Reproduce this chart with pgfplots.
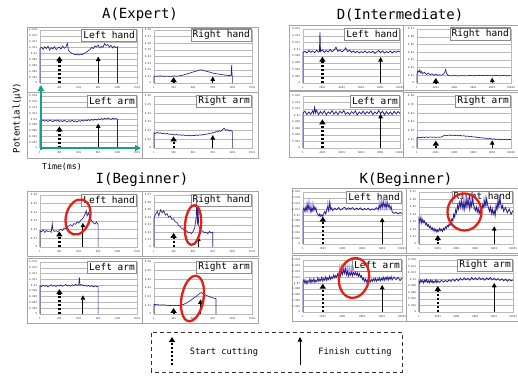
\documentclass[border=0pt]{standalone}
\usepackage{fontspec}
\setmainfont{DejaVu Sans Mono}
\usepackage{pgfplots}
\pgfplotsset{compat=1.18}
\usetikzlibrary{arrows.meta}
\definecolor{sigc}{RGB}{40,30,140}
\definecolor{lightsig}{RGB}{175,155,230}
\definecolor{framec}{RGB}{165,165,165}
\definecolor{labc}{RGB}{140,140,140}
\definecolor{teal2}{RGB}{20,160,140}
\definecolor{redc}{RGB}{232,30,20}
\pgfplotsset{
  panel/.style={scale only axis, anchor=south west, clip=false,
    axis line style={gray!55, line width=0.4pt},
    ymajorgrids, grid style={gray!55, line width=0.35pt},
    major tick length=0pt,
    tick label style={font=\fontsize{2.6}{3}\selectfont, text=black!75},
    /pgf/number format/assume math mode=true,
    /pgf/number format/1000 sep={},
    scaled y ticks=false, scaled x ticks=false,
    yticklabel style={/pgf/number format/fixed, /pgf/number format/precision=3, xshift=0.6pt},
    xticklabel style={yshift=0.3pt},
    ymin=0, enlargelimits=false},
  panA/.style={panel, xmin=1, xmax=1501, xtick={1,301,601,901,1201,1501}},
  panD/.style={panel, xmin=1, xmax=10001, xtick={1,2001,4001,6001,8001,10001}},
  y18/.style={ymax=0.018, ytick={0,0.002,0.004,0.006,0.008,0.01,0.012,0.014,0.016,0.018}},
  y16/.style={ymax=0.016, ytick={0,0.002,0.004,0.006,0.008,0.01,0.012,0.014,0.016}},
  y8/.style={ymax=0.08, ytick={0,0.01,0.02,0.03,0.04,0.05,0.06,0.07,0.08}},
  y7/.style={ymax=0.07, ytick={0,0.01,0.02,0.03,0.04,0.05,0.06,0.07}},
  y6/.style={ymax=0.06, ytick={0,0.01,0.02,0.03,0.04,0.05,0.06}},
  sig/.style={color=sigc, line width=0.65pt, no marks},
  dsig/.style={color=sigc, line width=0.8pt, no marks},
  lsig/.style={color=lightsig, line width=0.6pt, no marks},
}
\tikzset{
  plab/.style={anchor=north east, draw=labc, line width=1.1pt, fill=white,
    font=\fontsize{9.5}{10}\selectfont, inner sep=1.6pt, minimum height=12.5pt, yshift=1.5pt},
  startar/.style={black, line width=2.2pt, dash pattern=on 2.2pt off 1.8pt,
    -{Triangle[length=5pt,width=6pt]}},
  finar/.style={black, line width=0.9pt, -{Triangle[length=4.5pt,width=4.5pt]}},
  frm/.style={draw=framec, line width=0.9pt, fill=white},
  ell/.style={draw=redc, line width=2.3pt},
}
\newcommand\PL[1]{\node[plab] at (rel axis cs:1,1) {#1};}
\newcommand\SA[2]{\draw[startar] (axis cs:#1,0) -- (axis cs:#1,#2);}
\newcommand\FA[2]{\draw[finar] (axis cs:#1,0) -- (axis cs:#1,#2);}
\begin{document}
\begin{tikzpicture}
\path[use as bounding box] (0,0) rectangle (518pt,376pt);
\clip (0,0) rectangle (518pt,376pt);
% frames
\draw[frm] (27pt,284pt) rectangle (142pt,349pt);
\draw[frm] (142pt,284pt) rectangle (258pt,349pt);
\draw[frm] (27pt,218pt) rectangle (142pt,284pt);
\draw[frm] (142pt,218pt) rectangle (258pt,284pt);
\draw[frm] (289pt,286pt) rectangle (403pt,351pt);
\draw[frm] (403pt,286pt) rectangle (525pt,351pt);
\draw[frm] (289pt,219pt) rectangle (403pt,285pt);
\draw[frm] (403pt,219pt) rectangle (525pt,284pt);
\draw[frm] (27pt,120pt) rectangle (142pt,185pt);
\draw[frm] (142pt,120pt) rectangle (258pt,185pt);
\draw[frm] (27pt,53pt) rectangle (142pt,118pt);
\draw[frm] (142pt,53pt) rectangle (258pt,118pt);
\draw[frm] (292pt,123pt) rectangle (406pt,188pt);
\draw[frm] (406pt,123pt) rectangle (525pt,188pt);
\draw[frm] (292pt,55pt) rectangle (406pt,121pt);
\draw[frm] (406pt,55pt) rectangle (525pt,121pt);
% titles
\node[font=\fontsize{14}{15}\selectfont] at (140pt,361pt) {A(Expert)};
\node[font=\fontsize{14}{15}\selectfont] at (400pt,361pt) {D(Intermediate)};
\node[font=\fontsize{14}{15}\selectfont] at (142pt,196pt) {I(Beginner)};
\node[font=\fontsize{14}{15}\selectfont] at (406pt,196pt) {K(Beginner)};
\node[font=\fontsize{9}{10}\selectfont, rotate=90] at (17pt,258pt) {Potential(μV)};
\node[font=\fontsize{8.3}{9}\selectfont] at (62pt,209pt) {Time(ms)};

% ---------- A Left hand
\begin{axis}[panA, y18, at={(40pt,293pt)}, width=97pt, height=53pt]
\PL{Left hand}
\addplot[sig] coordinates {(1,0)(1,0.0118)(25,0.0121)(50,0.0114)(75,0.0123)(100,0.0117)(125,0.0125)(150,0.0112)(175,0.0120)(200,0.0116)(225,0.0124)(250,0.0113)(275,0.0119)(300,0.0122)(325,0.0115)(350,0.0126)(375,0.0118)(400,0.0121)(425,0.0135)(440,0.0112)(450,0.0108)(475,0.0104)(500,0.0100)(525,0.0098)(550,0.0096)(575,0.0097)(600,0.0095)(625,0.0098)(650,0.0096)(675,0.0100)(700,0.0102)(725,0.0106)(750,0.0110)(775,0.0114)(800,0.0121)(825,0.0117)(850,0.0126)(875,0.0122)(900,0.0129)(925,0.0119)(950,0.0124)(975,0.0121)(1000,0.0134)(1025,0.0127)(1050,0.0131)(1075,0.0122)(1100,0.0128)(1125,0.0119)(1150,0.0125)(1175,0.0120)(1200,0.0123)(1200,0)};
\SA{301}{0.0091}\FA{901}{0.0090}
\end{axis}
% ---------- A Right hand
\begin{axis}[panA, y8, at={(154pt,293pt)}, width=98pt, height=53pt]
\PL{Right hand}
\addplot[sig] coordinates {(1,0)(1,0.0105)(50,0.0102)(100,0.0107)(150,0.0101)(200,0.0104)(250,0.0100)(300,0.0106)(350,0.0103)(400,0.0110)(450,0.0121)(500,0.0135)(550,0.0150)(600,0.0166)(650,0.0180)(700,0.0195)(725,0.0199)(750,0.0190)(800,0.0178)(850,0.0165)(900,0.0150)(950,0.0140)(1000,0.0133)(1050,0.0125)(1100,0.0118)(1150,0.0112)(1180,0.0115)(1190,0.0270)(1195,0.0120)(1200,0.0110)(1200,0)};
\SA{301}{0.009}\FA{901}{0.010}
\end{axis}
% ---------- A Left arm
\begin{axis}[panA, y18, at={(40pt,228pt)}, width=97pt, height=52pt]
\PL{Left arm}
\addplot[sig] coordinates {(1,0)(1,0.0096)(25,0.0094)(50,0.0097)(75,0.0093)(100,0.0096)(125,0.0092)(150,0.0097)(175,0.0094)(200,0.0091)(225,0.0096)(250,0.0093)(275,0.0097)(300,0.0092)(325,0.0095)(350,0.0091)(375,0.0096)(400,0.0093)(425,0.0090)(450,0.0095)(475,0.0092)(500,0.0096)(525,0.0091)(550,0.0094)(575,0.0090)(600,0.0095)(625,0.0092)(650,0.0096)(675,0.0093)(700,0.0097)(725,0.0094)(750,0.0098)(775,0.0095)(800,0.0099)(825,0.0096)(850,0.0100)(875,0.0097)(900,0.0101)(925,0.0098)(950,0.0102)(975,0.0099)(1000,0.0103)(1025,0.0100)(1050,0.0104)(1075,0.0101)(1100,0.0099)(1125,0.0103)(1150,0.0100)(1175,0.0102)(1200,0.0099)(1200,0)};
\SA{301}{0.0075}\FA{901}{0.0085}
\end{axis}
% ---------- A Right arm
\begin{axis}[panA, y6, at={(154pt,228pt)}, width=98pt, height=52pt]
\PL{Right arm}
\addplot[sig] coordinates {(1,0)(1,0.0175)(25,0.0168)(50,0.0180)(75,0.0170)(100,0.0176)(125,0.0165)(150,0.0172)(175,0.0162)(200,0.0168)(225,0.0158)(250,0.0163)(275,0.0155)(300,0.0160)(325,0.0150)(350,0.0156)(375,0.0148)(400,0.0153)(425,0.0146)(450,0.0151)(475,0.0144)(500,0.0149)(525,0.0142)(550,0.0148)(575,0.0141)(600,0.0147)(625,0.0143)(650,0.0150)(675,0.0145)(700,0.0152)(725,0.0148)(750,0.0156)(775,0.0153)(800,0.0162)(825,0.0160)(850,0.0170)(875,0.0168)(900,0.0178)(925,0.0175)(950,0.0190)(975,0.0185)(1000,0.0198)(1025,0.0192)(1050,0.0215)(1075,0.0228)(1100,0.0205)(1125,0.0212)(1150,0.0196)(1175,0.0205)(1200,0.0190)(1200,0)};
\SA{301}{0.0135}\FA{901}{0.0150}
\end{axis}
% teal axes arrows
\draw[teal2, line width=1.6pt, -{Triangle[length=6pt,width=6pt]}] (41pt,226pt) -- (41pt,291pt);
\draw[teal2, line width=1.6pt, -{Triangle[length=6pt,width=6pt]}] (40pt,228pt) -- (141pt,228pt);

% ---------- D Left hand
\begin{axis}[panD, y16, at={(303pt,293pt)}, width=97pt, height=54pt]
\PL{Left hand}
\addplot[dsig] coordinates {(1,0)(1,0.0090)(200,0.0094)(400,0.0089)(600,0.0096)(800,0.0091)(1000,0.0095)(1200,0.0090)(1400,0.0097)(1600,0.0092)(1700,0.0094)(1750,0.0150)(1800,0.0093)(2000,0.0098)(2200,0.0091)(2400,0.0096)(2600,0.0092)(2800,0.0099)(3000,0.0093)(3200,0.0097)(3400,0.0106)(3600,0.0094)(3800,0.0098)(4000,0.0092)(4200,0.0096)(4400,0.0104)(4600,0.0093)(4800,0.0097)(5000,0.0091)(5200,0.0095)(5400,0.0090)(5600,0.0094)(5800,0.0089)(6000,0.0093)(6200,0.0090)(6400,0.0095)(6600,0.0089)(6800,0.0093)(7000,0.0090)(7200,0.0094)(7400,0.0088)(7600,0.0092)(7800,0.0096)(8000,0.0090)(8200,0.0095)(8400,0.0089)(8600,0.0093)(8800,0.0090)(9000,0.0095)(9200,0.0089)(9400,0.0094)(9600,0.0091)(9800,0.0095)(10001,0.0092)};
\SA{2001}{0.0078}\FA{8001}{0.0077}
\end{axis}
% ---------- D Right hand
\begin{axis}[panD, y7, at={(417pt,293pt)}, width=94pt, height=54pt]
\PL{Right hand}
\addplot[sig] coordinates {(1,0)(1,0.012)(100,0.016)(200,0.014)(300,0.017)(400,0.013)(500,0.015)(600,0.012)(800,0.014)(1000,0.011)(1200,0.013)(1400,0.0105)(1600,0.012)(1800,0.010)(2000,0.0115)(2200,0.0098)(2400,0.0108)(2600,0.0100)(2800,0.0115)(2950,0.0140)(3050,0.0175)(3150,0.0125)(3300,0.0098)(3600,0.0092)(4000,0.0097)(4400,0.0091)(4800,0.0096)(5200,0.0092)(5600,0.0098)(6000,0.0094)(6400,0.0100)(6800,0.0095)(7200,0.0101)(7600,0.0096)(8000,0.0093)(8400,0.0099)(8800,0.0094)(9200,0.0097)(9600,0.0093)(10001,0.0096)};
\SA{2001}{0.0065}\FA{8001}{0.0070}
\end{axis}
% ---------- D Left arm
\begin{axis}[panD, y16, at={(303pt,228pt)}, width=97pt, height=52pt]
\PL{Left arm}
\addplot[dsig] coordinates {(1,0)(1,0.0108)(200,0.0113)(400,0.0103)(600,0.0111)(800,0.0104)(1000,0.0114)(1100,0.0106)(1200,0.0125)(1300,0.0108)(1400,0.0116)(1600,0.0103)(1800,0.0112)(2000,0.0105)(2200,0.0114)(2400,0.0102)(2600,0.0111)(2800,0.0106)(3000,0.0115)(3200,0.0104)(3400,0.0112)(3600,0.0103)(3800,0.0113)(4000,0.0107)(4200,0.0115)(4400,0.0104)(4600,0.0110)(4800,0.0103)(5000,0.0112)(5200,0.0106)(5400,0.0114)(5600,0.0102)(5800,0.0111)(6000,0.0105)(6200,0.0113)(6400,0.0104)(6600,0.0112)(6800,0.0106)(7000,0.0114)(7200,0.0103)(7400,0.0111)(7600,0.0105)(7800,0.0115)(8000,0.0106)(8200,0.0113)(8400,0.0102)(8600,0.0112)(8800,0.0104)(9000,0.0111)(9200,0.0103)(9400,0.0113)(9600,0.0105)(9800,0.0112)(10001,0.0106)};
\SA{2001}{0.0088}\FA{8001}{0.0105}
\end{axis}
% ---------- D Right arm
\begin{axis}[panD, y6, at={(417pt,228pt)}, width=94pt, height=52pt]
\PL{Right arm}
\addplot[sig] coordinates {(1,0)(1,0.0120)(200,0.0124)(400,0.0118)(600,0.0126)(800,0.0121)(1000,0.0127)(1200,0.0122)(1400,0.0128)(1600,0.0123)(1800,0.0127)(2000,0.0122)(2200,0.0126)(2400,0.0124)(2600,0.0128)(2800,0.0140)(3000,0.0148)(3200,0.0142)(3400,0.0150)(3600,0.0144)(3800,0.0149)(4000,0.0143)(4200,0.0148)(4400,0.0141)(4600,0.0146)(4800,0.0139)(5000,0.0142)(5200,0.0135)(5400,0.0138)(5600,0.0130)(5800,0.0133)(6000,0.0126)(6200,0.0129)(6400,0.0121)(6600,0.0124)(6800,0.0116)(7000,0.0119)(7200,0.0111)(7400,0.0114)(7600,0.0106)(7800,0.0110)(8000,0.0102)(8200,0.0106)(8400,0.0099)(8600,0.0103)(8800,0.0097)(9000,0.0101)(9200,0.0096)(9400,0.0100)(9600,0.0095)(9800,0.0099)(10001,0.0097)};
\SA{2001}{0.0085}\FA{8001}{0.0090}
\end{axis}

% ---------- I Left hand
\begin{axis}[panA, y6, at={(40pt,129pt)}, width=97pt, height=52pt]
\PL{Left hand}
\addplot[sig] coordinates {(1,0)(1,0.019)(25,0.0175)(50,0.020)(75,0.0168)(100,0.0192)(125,0.0178)(150,0.0185)(175,0.0170)(190,0.0270)(200,0.0196)(225,0.0180)(250,0.0188)(275,0.0175)(300,0.0195)(325,0.0205)(350,0.0190)(375,0.0220)(400,0.0212)(425,0.0235)(450,0.0245)(475,0.0258)(500,0.0240)(525,0.0270)(550,0.0262)(575,0.0290)(600,0.0275)(625,0.0305)(650,0.0320)(675,0.0345)(700,0.0380)(715,0.0420)(730,0.0360)(750,0.0395)(775,0.0330)(800,0.0305)(825,0.0280)(850,0.0265)(875,0.0290)(900,0.0255)(900,0)};
\SA{301}{0.018}\FA{665}{0.028}
\end{axis}
% ---------- I Right hand
\begin{axis}[panA, y7, at={(154pt,129pt)}, width=98pt, height=52pt]
\PL{Right hand}
\addplot[sig] coordinates {(1,0)(1,0.040)(25,0.044)(50,0.048)(75,0.042)(100,0.050)(125,0.046)(150,0.049)(175,0.043)(200,0.045)(225,0.040)(250,0.042)(275,0.037)(300,0.038)(325,0.034)(350,0.033)(375,0.029)(400,0.028)(425,0.025)(450,0.024)(475,0.021)(500,0.022)(525,0.019)(550,0.020)(575,0.018)(600,0.021)(625,0.026)(645,0.040)(655,0.062)(665,0.030)(675,0.055)(685,0.028)(700,0.025)(725,0.022)(750,0.021)(775,0.019)(800,0.020)(825,0.018)(850,0.021)(875,0.019)(900,0.020)(900,0)};
\SA{301}{0.019}\FA{680}{0.014}
\end{axis}
% ---------- I Left arm
\begin{axis}[panA, y18, at={(40pt,62pt)}, width=97pt, height=52pt]
\PL{Left arm}
\addplot[sig] coordinates {(1,0)(1,0.0098)(25,0.0095)(50,0.0100)(75,0.0096)(100,0.0099)(125,0.0094)(150,0.0098)(175,0.0101)(200,0.0096)(225,0.0099)(250,0.0095)(275,0.0100)(300,0.0097)(325,0.0101)(350,0.0096)(375,0.0099)(400,0.0102)(425,0.0097)(450,0.0100)(475,0.0096)(500,0.0101)(525,0.0098)(550,0.0103)(575,0.0099)(600,0.0101)(610,0.0127)(620,0.0099)(650,0.0102)(675,0.0097)(700,0.0100)(725,0.0096)(750,0.0099)(775,0.0095)(800,0.0098)(825,0.0094)(850,0.0097)(875,0.0095)(900,0.0096)(900,0)};
\SA{301}{0.0086}\FA{665}{0.0065}
\end{axis}
% ---------- I Right arm
\begin{axis}[panA, y6, at={(154pt,62pt)}, width=98pt, height=52pt]
\PL{Right arm}
\addplot[sig] coordinates {(1,0)(1,0.011)(50,0.0108)(100,0.0103)(150,0.0106)(200,0.0100)(250,0.0098)(300,0.0101)(350,0.0096)(400,0.0099)(450,0.0110)(500,0.0128)(550,0.0150)(600,0.0178)(650,0.0205)(700,0.0238)(725,0.0248)(750,0.0235)(800,0.0215)(850,0.0200)(900,0.0185)(950,0.0178)(950,0)};
\SA{301}{0.007}\FA{713}{0.017}
\end{axis}

% ---------- K Left hand
\begin{axis}[panD, y18, at={(303pt,132pt)}, width=99pt, height=52pt]
\PL{Left hand}
\addplot[lsig] coordinates {(300,0.0110)(400,0.0150)(500,0.0105)(600,0.0158)(700,0.0112)(800,0.0145)(900,0.0108)(1000,0.0150)(1100,0.0112)};
\addplot[lsig] coordinates {(2400,0.0110)(2500,0.0152)(2600,0.0112)(2700,0.0160)(2800,0.0115)};
\addplot[lsig] coordinates {(7600,0.0112)(7700,0.0152)(7800,0.0115)(7900,0.0160)(8000,0.0118)(8100,0.0165)(8200,0.0116)(8300,0.0158)(8400,0.0115)(8500,0.0162)(8600,0.0118)};
\addplot[dsig] coordinates {(1,0)(1,0.0118)(100,0.0125)(200,0.0112)(300,0.0130)(400,0.0116)(500,0.0138)(600,0.0121)(700,0.0128)(800,0.0110)(900,0.0124)(1000,0.0115)(1100,0.0132)(1200,0.0118)(1300,0.0126)(1400,0.0108)(1500,0.0102)(1600,0.0097)(1700,0.0104)(1800,0.0095)(1900,0.0101)(2000,0.0096)(2100,0.0106)(2200,0.0112)(2300,0.0104)(2400,0.0118)(2500,0.0128)(2600,0.0115)(2700,0.0142)(2800,0.0120)(2900,0.0125)(3000,0.0116)(3200,0.0124)(3400,0.0119)(3600,0.0126)(3800,0.0118)(4000,0.0123)(4200,0.0127)(4400,0.0120)(4600,0.0125)(4800,0.0121)(5000,0.0126)(5200,0.0119)(5400,0.0124)(5600,0.0120)(5800,0.0125)(6000,0.0118)(6200,0.0123)(6400,0.0119)(6600,0.0124)(6800,0.0117)(7000,0.0122)(7200,0.0118)(7400,0.0126)(7600,0.0120)(7700,0.0132)(7800,0.0124)(7900,0.0140)(8000,0.0127)(8100,0.0145)(8200,0.0130)(8300,0.0138)(8400,0.0125)(8500,0.0142)(8600,0.0128)(8700,0.0136)(8800,0.0122)(8900,0.0130)(9000,0.0112)(9200,0.0106)(9400,0.0110)(9600,0.0104)(9800,0.0109)(10001,0.0105)};
\SA{2001}{0.0095}\FA{8001}{0.0091}
\end{axis}
% ---------- K Right hand
\begin{axis}[panD, y7, at={(419pt,132pt)}, width=94pt, height=52pt]
\PL{Right hand}
\addplot[lsig] coordinates {(4400,0.046)(4500,0.064)(4600,0.045)(4700,0.066)(4800,0.044)(4900,0.063)(5000,0.046)(5100,0.067)(5200,0.047)(5300,0.062)(5400,0.045)(5500,0.065)(5600,0.048)(5700,0.068)(5800,0.047)(6800,0.048)(6900,0.064)(7000,0.050)(7100,0.066)(7200,0.049)(8400,0.050)(8500,0.066)(8600,0.052)(8700,0.064)};
\addplot[dsig] coordinates {(1,0)(1,0.034)(100,0.030)(200,0.036)(300,0.028)(400,0.033)(500,0.029)(600,0.031)(700,0.026)(800,0.028)(900,0.024)(1000,0.026)(1100,0.022)(1200,0.024)(1300,0.020)(1400,0.022)(1500,0.018)(1600,0.021)(1700,0.017)(1800,0.020)(1900,0.016)(2000,0.019)(2100,0.017)(2200,0.021)(2300,0.018)(2400,0.020)(2500,0.017)(2600,0.021)(2700,0.019)(2800,0.023)(2900,0.021)(3000,0.025)(3100,0.023)(3200,0.027)(3300,0.025)(3400,0.030)(3500,0.034)(3600,0.031)(3700,0.040)(3800,0.036)(3900,0.046)(4000,0.042)(4100,0.052)(4200,0.047)(4300,0.056)(4400,0.050)(4500,0.058)(4600,0.049)(4700,0.055)(4800,0.046)(4900,0.057)(5000,0.050)(5100,0.060)(5200,0.052)(5300,0.058)(5400,0.047)(5500,0.056)(5600,0.051)(5700,0.062)(5800,0.053)(5900,0.049)(6000,0.045)(6100,0.050)(6200,0.043)(6300,0.048)(6400,0.041)(6500,0.046)(6600,0.040)(6700,0.047)(6800,0.054)(6900,0.049)(7000,0.058)(7100,0.052)(7200,0.061)(7300,0.053)(7400,0.048)(7500,0.044)(7600,0.050)(7700,0.041)(7800,0.047)(7900,0.040)(8000,0.045)(8100,0.038)(8200,0.052)(8300,0.046)(8400,0.058)(8500,0.050)(8600,0.062)(8700,0.054)(8800,0.048)(8900,0.052)(9000,0.044)(9200,0.049)(9400,0.042)(9600,0.047)(9800,0.040)(10001,0.045)};
\SA{2001}{0.012}\FA{8001}{0.024}
\end{axis}
% ---------- K Left arm
\begin{axis}[panD, y18, at={(303pt,64pt)}, width=99pt, height=52pt]
\PL{Left arm}
\addplot[lsig] coordinates {(3600,0.0128)(3700,0.0160)(3800,0.0130)(3900,0.0168)(4000,0.0132)(4100,0.0170)(4200,0.0135)(4300,0.0166)(4400,0.0130)(4500,0.0164)(4600,0.0128)(4700,0.0160)(4800,0.0130)(4900,0.0158)(5000,0.0128)(5100,0.0155)(5200,0.0130)};
\addplot[dsig] coordinates {(1,0)(1,0.0105)(100,0.0112)(200,0.0100)(300,0.0110)(400,0.0098)(500,0.0108)(600,0.0103)(700,0.0115)(800,0.0101)(900,0.0112)(1000,0.0104)(1100,0.0116)(1200,0.0102)(1300,0.0110)(1400,0.0105)(1500,0.0118)(1600,0.0106)(1700,0.0114)(1800,0.0108)(1900,0.0120)(2000,0.0107)(2100,0.0116)(2200,0.0110)(2300,0.0122)(2400,0.0109)(2500,0.0118)(2600,0.0112)(2700,0.0125)(2800,0.0113)(2900,0.0121)(3000,0.0116)(3100,0.0128)(3200,0.0118)(3300,0.0126)(3400,0.0120)(3500,0.0132)(3600,0.0122)(3700,0.0138)(3800,0.0126)(3900,0.0142)(4000,0.0130)(4100,0.0146)(4200,0.0134)(4300,0.0148)(4400,0.0128)(4500,0.0140)(4600,0.0125)(4700,0.0135)(4800,0.0128)(4900,0.0138)(5000,0.0126)(5100,0.0136)(5200,0.0129)(5300,0.0137)(5400,0.0127)(5500,0.0135)(5600,0.0124)(5700,0.0133)(5800,0.0121)(5900,0.0126)(6000,0.0112)(6100,0.0118)(6200,0.0106)(6300,0.0114)(6400,0.0104)(6500,0.0112)(6600,0.0102)(6700,0.0110)(6800,0.0104)(6900,0.0113)(7000,0.0106)(7100,0.0115)(7200,0.0108)(7300,0.0117)(7400,0.0106)(7500,0.0114)(7600,0.0109)(7700,0.0118)(7800,0.0107)(7900,0.0116)(8000,0.0110)(8100,0.0121)(8200,0.0109)(8300,0.0119)(8400,0.0112)(8500,0.0122)(8600,0.0110)(8700,0.0120)(8800,0.0113)(8900,0.0123)(9000,0.0111)(9200,0.0121)(9400,0.0112)(9600,0.0120)(9800,0.0109)(10001,0.0117)};
\SA{2001}{0.0098}\FA{8001}{0.0094}
\end{axis}
% ---------- K Right arm
\begin{axis}[panD, y16, at={(419pt,64pt)}, width=94pt, height=52pt]
\PL{Right arm}
\addplot[dsig] coordinates {(1,0)(1,0.0096)(100,0.0090)(200,0.0099)(300,0.0092)(400,0.0097)(500,0.0089)(600,0.0098)(700,0.0093)(800,0.0100)(900,0.0091)(1000,0.0096)(1100,0.0090)(1200,0.0098)(1300,0.0092)(1400,0.0097)(1500,0.0089)(1600,0.0095)(1700,0.0091)(1800,0.0099)(1900,0.0090)(2000,0.0096)(2200,0.0091)(2400,0.0098)(2600,0.0092)(2800,0.0097)(3000,0.0093)(3200,0.0099)(3400,0.0094)(3600,0.0101)(3800,0.0095)(4000,0.0102)(4200,0.0096)(4400,0.0104)(4600,0.0098)(4800,0.0105)(5000,0.0099)(5200,0.0104)(5400,0.0098)(5600,0.0106)(5800,0.0100)(6000,0.0105)(6200,0.0099)(6400,0.0106)(6600,0.0100)(6800,0.0104)(7000,0.0098)(7200,0.0105)(7400,0.0100)(7600,0.0106)(7800,0.0099)(8000,0.0104)(8200,0.0098)(8400,0.0103)(8600,0.0097)(8800,0.0102)(9000,0.0096)(9200,0.0101)(9400,0.0095)(9600,0.0100)(9800,0.0096)(10001,0.0099)};
\SA{2001}{0.0080}\FA{8001}{0.0090}
\end{axis}

% red ellipses
\draw[ell, rotate around={-15:(78pt,159pt)}] (78pt,159pt) ellipse [x radius=12pt, y radius=18pt];
\draw[ell, rotate around={-5:(193pt,151pt)}] (193pt,151pt) ellipse [x radius=8pt, y radius=20pt];
\draw[ell, rotate around={-10:(192.5pt,77.5pt)}] (192.5pt,77.5pt) ellipse [x radius=11pt, y radius=23pt];
\draw[ell] (464.5pt,164pt) ellipse [x radius=17pt, y radius=18.5pt];
\draw[ell, rotate around={-10:(354pt,98pt)}] (354pt,98pt) ellipse [x radius=15pt, y radius=20pt];

% legend
\draw[black!80, line width=0.9pt, dash pattern=on 4pt off 3pt] (151pt,4pt) rectangle (402pt,44pt);
\draw[startar] (172pt,11pt) -- (172pt,39pt);
\draw[finar] (300pt,11pt) -- (300pt,39pt);
\node[font=\fontsize{8.7}{10}\selectfont] at (224pt,24pt) {Start cutting};
\node[font=\fontsize{8.7}{10}\selectfont] at (355pt,24pt) {Finish cutting};
\end{tikzpicture}
\end{document}
